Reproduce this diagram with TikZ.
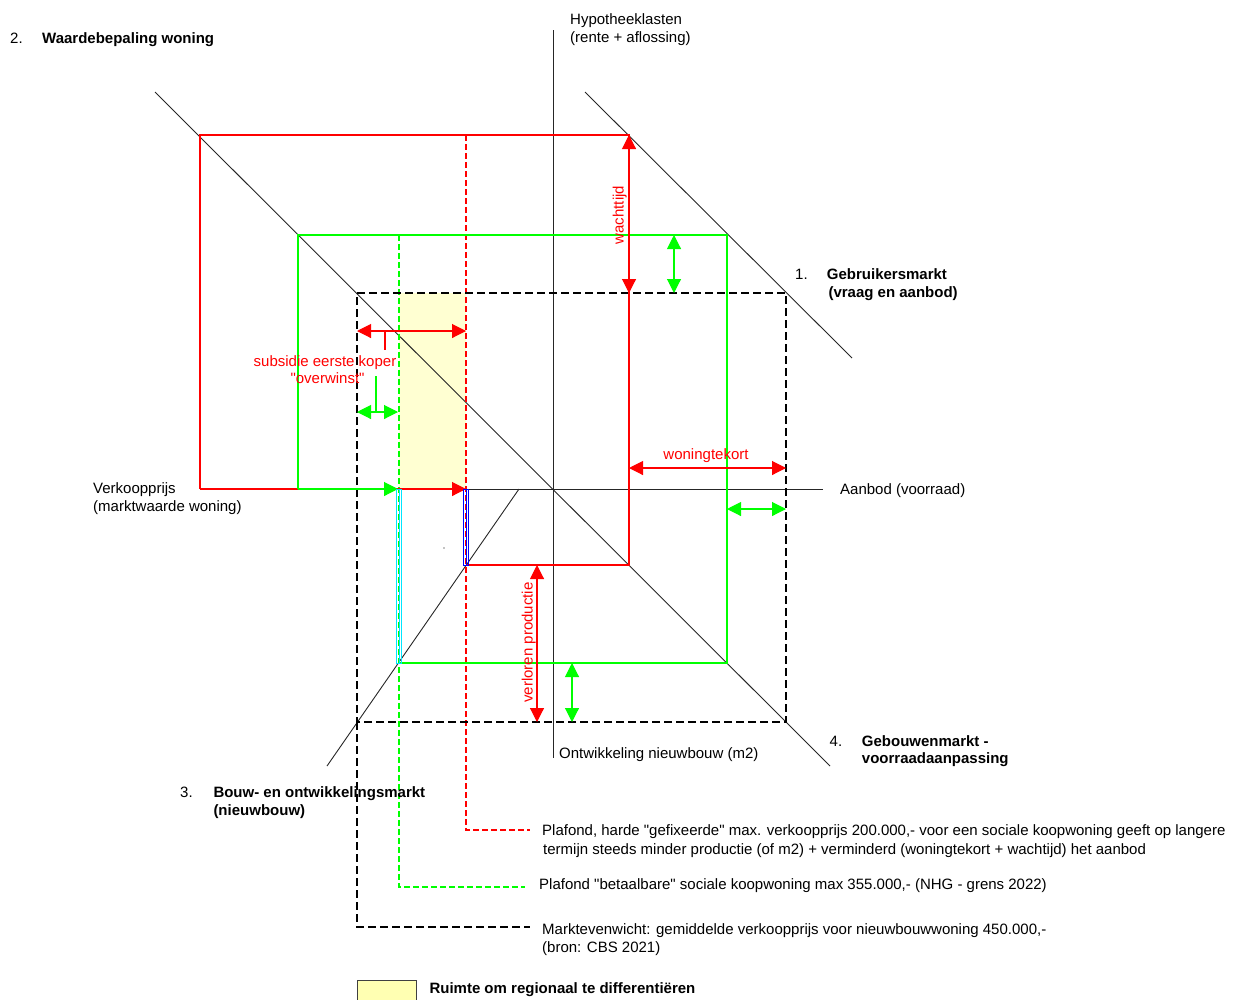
\documentclass[tikz,border=0pt]{standalone}
\usepackage{fontspec}
\setmainfont{Liberation Sans}[Ligatures=TeXOff]
\usetikzlibrary{arrows.meta}
\definecolor{rd}{RGB}{255,0,0}
\definecolor{gn}{RGB}{0,255,0}
\definecolor{bl}{RGB}{0,0,255}
\definecolor{cy}{RGB}{0,230,255}
\definecolor{yl}{RGB}{255,255,210}
\definecolor{yleg}{RGB}{255,255,178}
\begin{document}
\begin{tikzpicture}[x=1pt,y=-1pt,
  lbl/.style={anchor=base west,inner sep=0pt,font=\fontsize{15}{18}\selectfont},
  bld/.style={anchor=base west,inner sep=0pt,font=\fontsize{15}{18}\selectfont\bfseries},
  rlbl/.style={anchor=base,inner sep=0pt,text=rd,font=\fontsize{15}{18}\selectfont},
  axline/.style={black!85,line width=0.9pt},
  rline/.style={draw=rd,line width=1.1pt},
  gline/.style={draw=gn,line width=1.1pt},
  tip/.tip={Triangle[length=14pt,width=14pt]},
  dblarrow/.style={line width=1.1pt,tip-tip},
  endarrow/.style={line width=1.1pt,-tip},
  bdash/.style={draw=black,line width=1.2pt,dash pattern=on 8pt off 4pt},
  rdash/.style={draw=rd,line width=1.1pt,dash pattern=on 6pt off 3pt},
  gdash/.style={draw=gn,line width=1.1pt,dash pattern=on 6pt off 3pt}]
\useasboundingbox (0,0) rectangle (1246,999);
% key points
\coordinate (O) at (553,489);
\coordinate (R1) at (200,135); \coordinate (R2) at (629,135); \coordinate (R3) at (629,565);
\coordinate (R4) at (466,565); \coordinate (R5) at (466,489); \coordinate (R6) at (200,489);
\coordinate (G1) at (298,235); \coordinate (G2) at (727,235); \coordinate (G3) at (727,663);
\coordinate (G4) at (398,663); \coordinate (G5) at (398,489); \coordinate (G6) at (298,489);
\coordinate (B1) at (357,293); \coordinate (B2) at (786,293); \coordinate (B3) at (786,722); \coordinate (B4) at (357,722);
% yellow zone
\fill[yl] (399,293) rectangle (466,489);
% axes and market lines
\coordinate (vT) at (553,30); \coordinate (vB) at (553,758);
\coordinate (hL) at (466,489); \coordinate (hR) at (823,489);
\draw[axline] (vT) -- (vB);
\draw[axline] (hL) -- (hR);
\coordinate (q1a) at (585,92); \coordinate (q1b) at (852,358);
\coordinate (q2a) at (155,92); \coordinate (q4b) at (830,766);
\coordinate (q3a) at (519,489); \coordinate (q3b) at (327,766);
\draw[axline] (q1a) -- (q1b);
\draw[axline] (q2a) -- (q4b);
\draw[axline] (q3a) -- (q3b);
% dashed guide lines
\coordinate (rdT) at (466,135); \coordinate (rdB) at (466,830); \coordinate (rdE) at (530,830);
\coordinate (gdT) at (399,235); \coordinate (gdB) at (399,887); \coordinate (gdE) at (525,887);
\coordinate (bdB) at (357,927); \coordinate (bdE) at (530,927);
\draw[rdash] (rdT) -- (rdB) -- (rdE);
\draw[gdash] (gdT) -- (gdB) -- (gdE);
\draw[bdash] (B1) -- (B2) -- (B3) -- (B4) -- cycle;
\draw[bdash] (B4) -- (bdB) -- (bdE);
% red loop
\draw[rline] (R6) -- (R1) -- (R2) -- (R3) -- (R4);
\draw[endarrow,draw=rd,fill=rd] (R6) -- (R5);
% green loop
\draw[gline] (G6) -- (G1) -- (G2) -- (G3) -- (G4);
\draw[endarrow,draw=gn,fill=gn] (G6) -- (G5);
% blue and cyan double lines
\draw[bl,line width=1pt] (463.5,489.5) rectangle (468.5,565);
\draw[bl,line width=1pt] (466,489.5) -- (466,565);
\draw[cy,line width=1pt] (396.5,489.5) rectangle (401.5,663);
\draw[cy,line width=1pt] (399,489.5) -- (399,663);
\fill[black] (444,548) circle (0.6);
% measurement arrows
\coordinate (sA) at (357,331); \coordinate (sB) at (466,331);
\draw[dblarrow,draw=rd,fill=rd] (sA) -- (sB);
\coordinate (tA) at (385,331); \coordinate (tB) at (385,350);
\draw[rline] (tA) -- (tB);
\coordinate (oA) at (357,412); \coordinate (oB) at (398,412);
\draw[dblarrow,draw=gn,fill=gn] (oA) -- (oB);
\coordinate (uA) at (376,376); \coordinate (uB) at (376,412);
\draw[gline] (uA) -- (uB);
\coordinate (wA) at (629,135); \coordinate (wB) at (629,293);
\draw[dblarrow,draw=rd,fill=rd] (wA) -- (wB);
\coordinate (xA) at (674,235); \coordinate (xB) at (674,293);
\draw[dblarrow,draw=gn,fill=gn] (xA) -- (xB);
\coordinate (kA) at (629,468); \coordinate (kB) at (786,468);
\draw[dblarrow,draw=rd,fill=rd] (kA) -- (kB);
\coordinate (mA) at (727,509); \coordinate (mB) at (786,509);
\draw[dblarrow,draw=gn,fill=gn] (mA) -- (mB);
\coordinate (pA) at (537,565); \coordinate (pB) at (537,722);
\draw[dblarrow,draw=rd,fill=rd] (pA) -- (pB);
\coordinate (nA) at (572,663); \coordinate (nB) at (572,722);
\draw[dblarrow,draw=gn,fill=gn] (nA) -- (nB);
% red labels
\node[rlbl] (sub1) at (325,366) {subsidie eerste koper};
\node[rlbl] (sub2) at (327.5,383.5) {"overwinst"};
\node[rlbl] (wt) at (706,459.5) {woningtekort};
\node[rlbl,rotate=90] (wacht) at (623.5,215) {wachttijd};
\node[rlbl,rotate=90] (verl) at (532.5,642.5) {verloren productie};
% black labels
\node[lbl] (n2) at (10,43) {2.};
\node[bld] (t2) at (42,43) {Waardebepaling woning};
\node[lbl] (hyp1) at (570,24) {Hypotheeklasten};
\node[lbl] (hyp2) at (570,42.5) {(rente + aflossing)};
\node[lbl] (n1) at (795,279) {1.};
\node[bld] (t1a) at (826.7,279) {Gebruikersmarkt};
\node[bld] (t1b) at (828.3,297.5) {(vraag en aanbod)};
\node[lbl] (vk1) at (93,493) {Verkoopprijs};
\node[lbl] (vk2) at (93,511) {(marktwaarde woning)};
\node[lbl] (aan) at (840,494) {Aanbod (voorraad)};
\node[lbl] (ont) at (559,758) {Ontwikkeling nieuwbouw (m2)};
\node[lbl] (n4) at (829.5,746) {4.};
\node[bld] (t4a) at (861.7,746) {Gebouwenmarkt -};
\node[bld] (t4b) at (861.7,763.5) {voorraadaanpassing};
\node[lbl] (n3) at (180,797) {3.};
\node[bld] (t3a) at (213.3,797) {Bouw- en ontwikkelingsmarkt};
\node[bld] (t3b) at (213.3,815) {(nieuwbouw)};
\node[lbl] (pl1) at (542,835.5) {Plafond, harde "gefixeerde" max. verkoopprijs 200.000,- voor een sociale koopwoning geeft op langere};
\node[lbl] (pl2) at (543,854) {termijn steeds minder productie (of m2) + verminderd (woningtekort + wachtijd) het aanbod};
\node[lbl] (pb) at (539,889) {Plafond "betaalbare" sociale koopwoning max 355.000,- (NHG - grens 2022)};
\node[lbl] (mk1) at (542,934) {Marktevenwicht: gemiddelde verkoopprijs voor nieuwbouwwoning 450.000,-};
\node[lbl] (mk2) at (542,952) {(bron: CBS 2021)};
% legend
\draw[fill=yleg,draw=black!75,line width=1pt] (357,980.5) rectangle (416,1001);
\node[bld] (leg) at (429.3,993.5) {Ruimte om regionaal te differentiëren};
\end{tikzpicture}
\end{document}
